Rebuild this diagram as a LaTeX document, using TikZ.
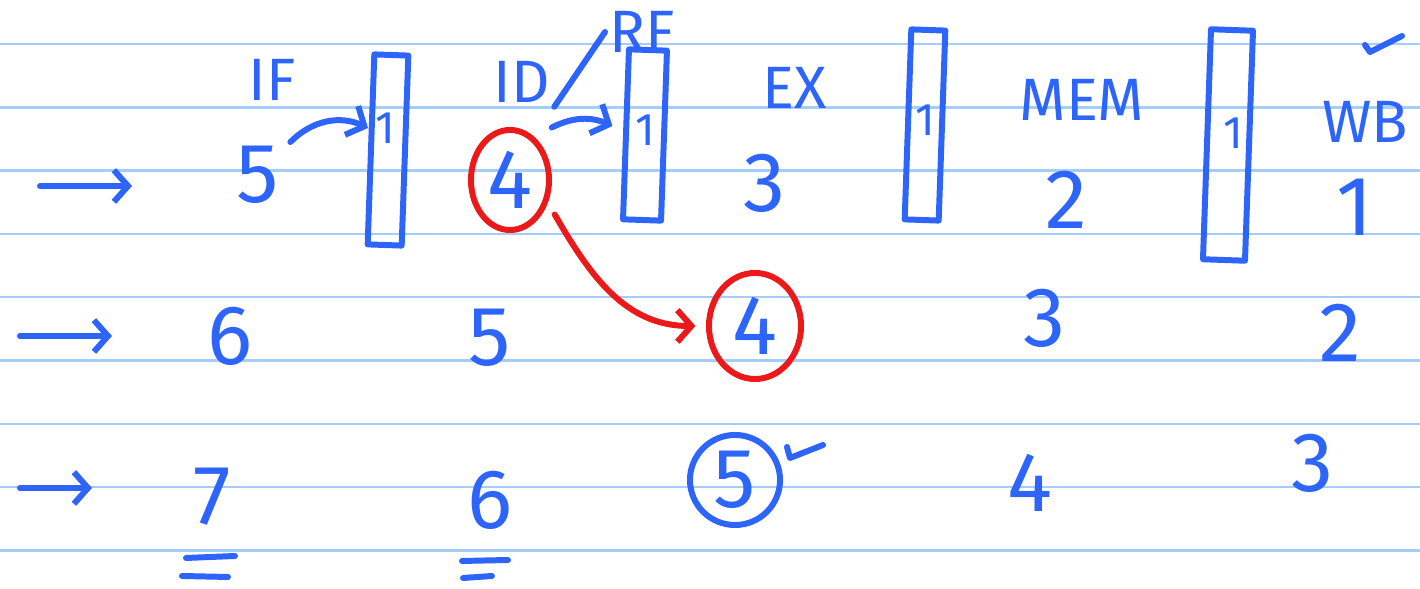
\documentclass[tikz,border=0pt]{standalone}
\usepackage{fontspec}
\setmainfont{Fira Sans}
\usetikzlibrary{positioning,arrows.meta,calc,shapes.geometric}
\definecolor{inkblue}{RGB}{45,100,250}
\definecolor{inkred}{RGB}{235,25,25}
\definecolor{ruleblue}{RGB}{165,205,250}

\begin{document}
\begin{tikzpicture}[
    x=0.01cm,
    y=-0.01cm,
    >={Straight Barb[length=4pt,width=9pt]},
    every node/.style={align=center, text=inkblue, inner sep=1pt},
    ink/.style={draw=inkblue, line width=1.7pt, line cap=round, line join=round},
    redink/.style={draw=inkred, line width=1.7pt, line cap=round, line join=round},
    stage/.style={font=\fontsize{17}{20}\selectfont},
    num/.style={font=\fontsize{24}{28}\selectfont},
    reglbl/.style={font=\fontsize{13}{15}\selectfont},
    latch/.style={ink, rectangle, minimum width=0.34cm, rotate=-2}
]
\useasboundingbox (0,0) rectangle (1420,589);

% Ruled paper
\foreach \k in {0,...,8}
    \draw[ruleblue, line width=0.7pt] (0,{44+63.3*\k}) -- (1420,{44+63.3*\k});

% Stage names
\node[stage] (lIF) at (272,80) {IF};
\node[stage] (lID) at (522,82) {ID};
\node[stage] (lRF) at (642,32) {RF};
\node[stage] (lEX) at (795,88) {EX};
\node[stage] (lMEM) at (1082,100) {MEM};
\node[stage] (lWB) at (1365,122) {WB};
\draw[ink] (lID.south east) -- (lRF.west);

% Pipeline latches
\node[latch, minimum height=1.9cm] (ifid) at (388,150) {};
\node[latch, minimum height=1.7cm, minimum width=0.38cm] (idex) at (645,135) {};
\node[latch, minimum height=1.9cm] (exmem) at (925,125) {};
\node[latch, minimum height=2.3cm, minimum width=0.42cm] (memwb) at (1228,145) {};
\node[reglbl] at (385,128) {1};
\node[reglbl] at (645,130) {1};
\node[reglbl] at (925,120) {1};
\node[reglbl] at (1233,133) {1};

% Row 1
\coordinate (a1) at (40,186);
\coordinate (b1) at (132,186);
\node[num] (r1if) at (258,175) {5};
\node[num, draw=inkred, line width=1.7pt, ellipse, minimum width=0.78cm, minimum height=1.0cm] (r1id) at (510,180) {4};
\node[num] (r1ex) at (765,183) {3};
\node[num] (r1mem) at (1066,200) {2};
\node[num] (r1wb) at (1355,207) {1};

% Row 2
\coordinate (a2) at (20,336);
\coordinate (b2) at (112,336);
\node[num] (r2if) at (230,336) {6};
\node[num] (r2id) at (490,338) {5};
\node[num, draw=inkred, line width=1.7pt, ellipse, minimum width=0.92cm, minimum height=1.06cm] (r2ex) at (755,326) {4};
\node[num] (r2mem) at (1045,318) {3};
\node[num] (r2wb) at (1340,333) {2};

% Row 3
\coordinate (a3) at (20,488);
\coordinate (b3) at (92,488);
\node[num] (r3if) at (212,497) {7};
\node[num] (r3id) at (490,500) {6};
\node[num, draw=inkblue, line width=1.7pt, circle, minimum size=0.9cm] (r3ex) at (735,480) {5};
\node[num] (r3mem) at (1030,483) {4};
\node[num] (r3wb) at (1313,463) {3};

% Incoming instruction arrows
\draw[ink, ->] (a1) -- (b1);
\draw[ink, ->] (a2) -- (b2);
\draw[ink, ->] (a3) -- (b3);

% Latch arrows
\draw[ink, ->] ([xshift=2pt]r1if.north east) to[bend left=35] (ifid.west |- 0,128);
\draw[ink, ->] ([shift={(12,-15)}]r1id.north east) to[bend left=25] ([xshift=-3pt]idex.west |- 0,126);

% Forwarding
\draw[redink, ->] ([shift={(15,-3)}]r1id.south east) to[out=-60, in=180] ([xshift=-3pt]r2ex.west);

% Ticks
\draw[ink] (1365,45) -- (1370,52) -- (1402,36);
\draw[ink] (787,447) -- (790,458) -- (823,445);

% Underlines
\draw[ink] (186,558) -- (235,556);
\draw[ink] (182,576) -- (228,577);
\draw[ink] (462,561) -- (508,560);
\draw[ink] (463,578) -- (492,576);
\end{tikzpicture}
\end{document}
